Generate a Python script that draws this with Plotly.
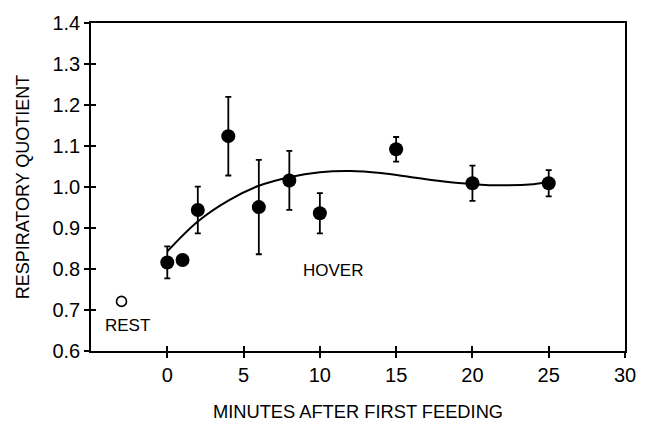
import plotly.graph_objects as go

# ---- data ----
rest_x = [-3]
rest_y = [0.721]

time_min = [0, 1, 2, 4, 6, 8, 10, 15, 20, 25]
rq_mean = [0.816, 0.822, 0.944, 1.124, 0.951, 1.016, 0.936, 1.092, 1.009, 1.009]
rq_err = [0.039, None, 0.057, 0.096, 0.115, 0.072, 0.049, 0.030, 0.043, 0.032]

fit_x = [0, 2, 4, 6, 8, 10, 12, 14, 16, 18, 20, 22, 24, 25]
fit_y = [0.843, 0.916, 0.967, 1.003, 1.024, 1.036, 1.039, 1.034, 1.024, 1.014,
         1.007, 1.004, 1.007, 1.012]

x_ticks = [0, 5, 10, 15, 20, 25, 30]
y_ticks = [0.6, 0.7, 0.8, 0.9, 1.0, 1.1, 1.2, 1.3, 1.4]
y_ticktext = ["0.6", "0.7", "0.8", "0.9", "1.0", "1.1", "1.2", "1.3", "1.4"]

x_range = [-5, 30]
y_range = [0.6, 1.4]

FONT = "Liberation Sans, Arial, sans-serif"

fig = go.Figure()

fig.add_trace(go.Scatter(
    x=rest_x, y=rest_y, mode="markers",
    marker=dict(symbol="circle-open", size=10, color="black", line=dict(width=1.6)),
    showlegend=False, hoverinfo="skip"))

fig.add_trace(go.Scatter(
    x=time_min, y=rq_mean, mode="markers",
    marker=dict(symbol="circle", size=14, color="black"),
    error_y=dict(type="data", array=rq_err, symmetric=True, color="black",
                 thickness=1.8, width=3),
    showlegend=False, hoverinfo="skip"))

fig.add_trace(go.Scatter(
    x=fit_x, y=fit_y, mode="lines", line=dict(color="black", width=2, shape="spline"),
    xaxis="x2", yaxis="y2", showlegend=False, hoverinfo="skip"))

axis_common = dict(showgrid=False, zeroline=False, tickcolor="black", tickwidth=1.5,
                   ticklen=5)

fig.update_layout(
    width=648, height=431,
    margin=dict(l=91, r=14, t=23, b=68),
    paper_bgcolor="white", plot_bgcolor="white",
    font=dict(family=FONT, color="black", size=18),
    xaxis=dict(range=x_range, tickvals=x_ticks, ticks="outside", showline=True,
               linecolor="black", linewidth=1.5, mirror=True, tickfont=dict(size=20),
               title=dict(text="MINUTES AFTER FIRST FEEDING", font=dict(size=18.3),
                          standoff=20),
               **axis_common),
    yaxis=dict(range=y_range, tickvals=y_ticks, ticktext=y_ticktext, ticks="outside",
               showline=True, linecolor="black", linewidth=1.5, mirror=True,
               tickfont=dict(size=20),
               title=dict(text="RESPIRATORY QUOTIENT", font=dict(size=18), standoff=18),
               **axis_common),
    xaxis2=dict(range=x_range, tickvals=x_ticks, ticks="inside", overlaying="x",
                showticklabels=False, showline=False, **axis_common),
    yaxis2=dict(range=y_range, tickvals=y_ticks, ticks="inside", overlaying="y",
                showticklabels=False, showline=False, **axis_common),
    annotations=[
        dict(x=10.86, y=0.796, xref="x", yref="y", text="HOVER", showarrow=False,
             font=dict(size=17)),
        dict(x=-2.6, y=0.663, xref="x", yref="y", text="REST", showarrow=False,
             font=dict(size=17)),
    ],
)

fig.write_html("out.html", config={"displayModeBar": False},
               post_script="document.body.style.margin='0px';")
